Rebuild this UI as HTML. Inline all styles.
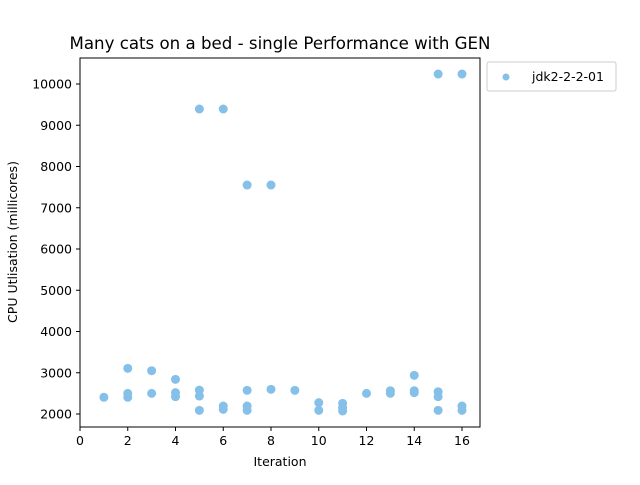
<!DOCTYPE html>
<html><head><meta charset="utf-8"><style>
body{margin:0;background:#fff;font-family:"Liberation Sans","DejaVu Sans",sans-serif;}
svg text{font-family:"DejaVu Sans","Liberation Sans",sans-serif;}
</style></head><body>
<svg id="chart" width="640" height="480" xmlns="http://www.w3.org/2000/svg">
<rect width="640" height="480" fill="#fff"/>
<text x="280" y="49" font-size="16.5" text-anchor="middle" fill="#000" textLength="421" lengthAdjust="spacingAndGlyphs">Many cats on a bed - single Performance with GEN</text>
<g id="marks"></g>
<rect x="80" y="58" width="400" height="369" fill="none" stroke="#000" stroke-width="1"/>
<g id="xticks"></g><g id="yticks"></g>
<text x="280" y="466" font-size="12.5" text-anchor="middle">Iteration</text>
<text transform="translate(17,242) rotate(-90)" font-size="12.5" text-anchor="middle">CPU Utlisation (millicores)</text>
<g>
<rect x="487" y="62" width="129" height="29" rx="2" fill="#fff" stroke="#ccc"/>
<circle cx="506" cy="77" r="3.5" fill="#85c0e9"/>
<text x="532" y="81" font-size="12.5">jdk2-2-2-01</text>
</g>
</svg>
<script>
const iterations=[1,2,2,2,3,3,4,4,4,5,5,5,5,6,6,6,7,7,7,7,8,8,9,10,10,11,11,11,12,13,13,14,14,14,15,15,15,15,16,16,16];
const cpuValues=[2405,3107,2500,2405,3050,2500,2840,2517,2420,9394,2580,2436,2089,9394,2194,2113,7551,2573,2194,2089,7551,2598,2573,2275,2089,2258,2153,2073,2500,2565,2500,2937,2565,2517,10242,2540,2420,2089,10242,2194,2089];
const xTicks=[0,2,4,6,8,10,12,14,16];
const yTicks=[2000,3000,4000,5000,6000,7000,8000,9000,10000];
const NS="http://www.w3.org/2000/svg";
function xs(v){return 80+v*23.875;}
function ys(v){return 414-(v-2000)*0.04125;}
const marks=document.getElementById('marks');
iterations.forEach((it,i)=>{
 const c=document.createElementNS(NS,'circle');
 c.setAttribute('cx',xs(it));c.setAttribute('cy',ys(cpuValues[i]));c.setAttribute('r',4.5);c.setAttribute('fill','#85c0e9');
 
 
 marks.appendChild(c);
});
const xg=document.getElementById('xticks');
xTicks.forEach(t=>{
 const g=document.createElementNS(NS,'g');
 
 
 g.innerHTML=`<line x1="${xs(t)}" x2="${xs(t)}" y1="427" y2="431" stroke="#000"/><text x="${xs(t)}" y="445" font-size="12.5" text-anchor="middle">${t}</text>`;
 xg.appendChild(g);
});
const yg=document.getElementById('yticks');
yTicks.forEach(t=>{
 const g=document.createElementNS(NS,'g');
 
 
 g.innerHTML=`<line x1="76" x2="80" y1="${ys(t)}" y2="${ys(t)}" stroke="#000"/><text x="72" y="${ys(t)+4.5}" font-size="12.5" text-anchor="end">${t}</text>`;
 yg.appendChild(g);
});
</script>
</body></html>
